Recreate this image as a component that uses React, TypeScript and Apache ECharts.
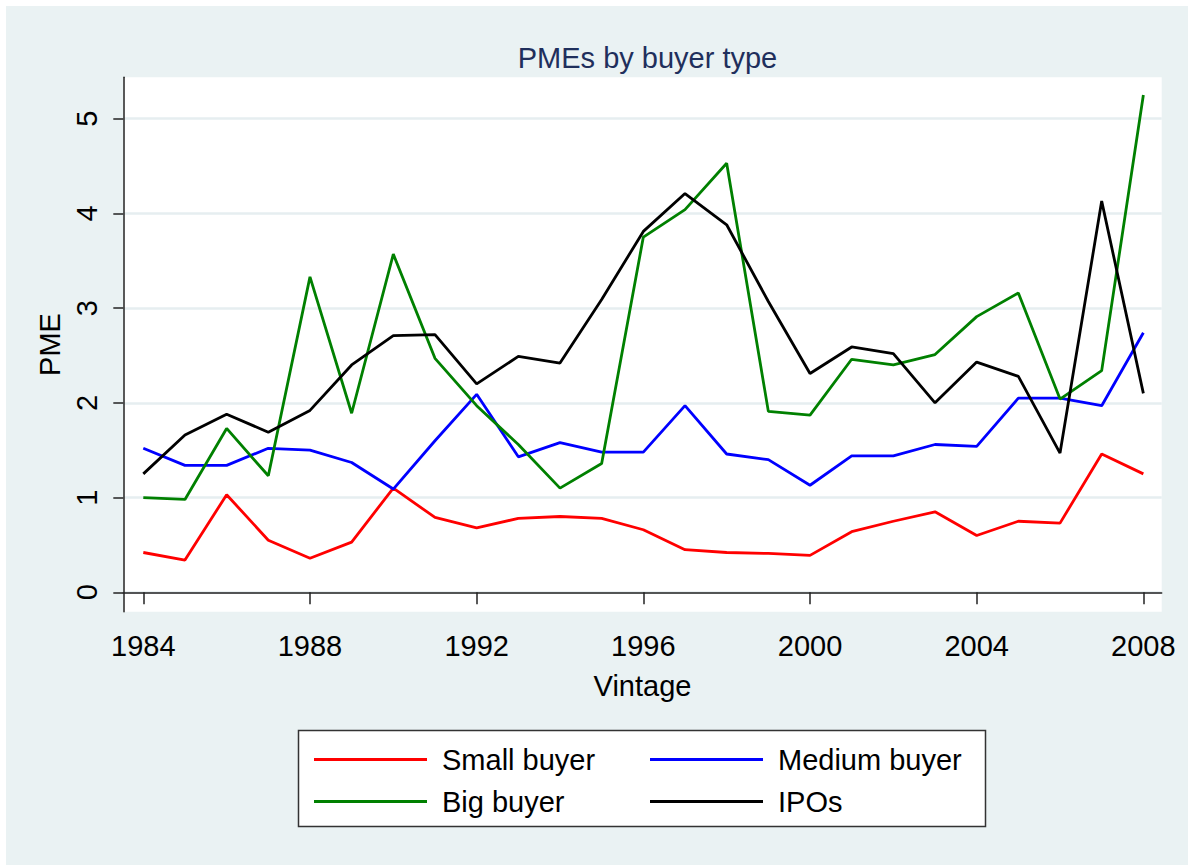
import React, { useEffect, useRef } from "react";
import * as echarts from "echarts";

const years = [1984, 1985, 1986, 1987, 1988, 1989, 1990, 1991, 1992, 1993, 1994, 1995, 1996, 1997, 1998, 1999, 2000, 2001, 2002, 2003, 2004, 2005, 2006, 2007, 2008];
const smallBuyer = [0.42, 0.34, 1.03, 0.55, 0.36, 0.53, 1.10, 0.79, 0.68, 0.78, 0.80, 0.78, 0.66, 0.45, 0.42, 0.41, 0.39, 0.64, 0.75, 0.85, 0.60, 0.75, 0.73, 1.46, 1.25];
const mediumBuyer = [1.52, 1.34, 1.34, 1.52, 1.50, 1.37, 1.09, 1.60, 2.09, 1.43, 1.58, 1.48, 1.48, 1.97, 1.46, 1.40, 1.13, 1.44, 1.44, 1.56, 1.54, 2.05, 2.05, 1.97, 2.74];
const bigBuyer = [1.00, 0.98, 1.73, 1.23, 3.33, 1.89, 3.57, 2.47, 1.97, 1.56, 1.10, 1.36, 3.75, 4.04, 4.53, 1.91, 1.87, 2.46, 2.40, 2.51, 2.91, 3.16, 2.04, 2.34, 5.25];
const ipos = [1.25, 1.66, 1.88, 1.69, 1.92, 2.40, 2.71, 2.72, 2.20, 2.49, 2.42, 3.09, 3.81, 4.21, 3.88, 3.07, 2.31, 2.59, 2.52, 2.00, 2.43, 2.28, 1.47, 4.13, 2.10];
const xTicks = [1984, 1988, 1992, 1996, 2000, 2004, 2008];
const yTicks = [0, 1, 2, 3, 4, 5];

const FONT = "'Liberation Sans', Arial, sans-serif";

export default function App() {
  const ref = useRef<HTMLDivElement>(null);
  useEffect(() => {
    if (!ref.current) return;
    const chart = echarts.init(ref.current, null, { renderer: "svg" });
    const mk = (name: string, data: number[], color: string) => ({
      name,
      type: "line",
      data: years.map((y, i) => [y, data[i]]),
      symbol: "none",
      showSymbol: false,
      clip: false,
      lineStyle: { color, width: 2.8 },
      itemStyle: { color },
    });
    const legendCommon = {
      orient: "vertical",
      top: 740,
      icon: "rect",
      itemWidth: 113,
      itemHeight: 3,
      itemGap: 13,
      textStyle: { fontFamily: FONT, fontSize: 29, color: "#000", padding: [0, 0, 0, 10] },
    };
    chart.setOption({
      animation: false,
      backgroundColor: "#ffffff",
      textStyle: { fontFamily: FONT },
      graphic: [
        { type: "rect", z: -10, silent: true, shape: { x: 6, y: 6, width: 1182, height: 859 }, style: { fill: "#eaf2f3" } },
        { type: "rect", z: -5, silent: true, shape: { x: 298.5, y: 730.5, width: 687, height: 96 }, style: { fill: "#ffffff", stroke: "#333333", lineWidth: 1.5 } },
      ],
      title: {
        text: "PMEs by buyer type",
        left: 642.5,
        textAlign: "center",
        top: 38,
        textStyle: { fontFamily: FONT, fontSize: 29, fontWeight: "normal", color: "#1f2f5c" },
      },
      legend: [
        { ...legendCommon, data: ["Small buyer", "Big buyer"], left: 309 },
        { ...legendCommon, data: ["Medium buyer", "IPOs"], left: 645 },
      ],
      grid: { left: 123.3, right: 26.3, top: 77.3, bottom: 253.3, show: true, backgroundColor: "#ffffff", borderWidth: 0 },
      xAxis: {
        type: "value",
        min: 1983.52,
        max: 2008.44,
        name: "Vintage",
        nameLocation: "middle",
        nameGap: 60,
        nameTextStyle: { fontFamily: FONT, fontSize: 29, color: "#000" },
        axisLine: { show: true, lineStyle: { color: "#222", width: 1.5 } },
        axisTick: { show: true, customValues: xTicks, length: 12, lineStyle: { color: "#222", width: 1.5 } },
        axisLabel: { customValues: xTicks, margin: 20, fontFamily: FONT, fontSize: 29, color: "#000", formatter: (v: number) => String(v) },
        splitLine: { show: false },
      },
      yAxis: {
        type: "value",
        min: -0.205,
        max: 5.437,
        name: "PME",
        nameLocation: "middle",
        nameGap: 53,
        nameRotate: 90,
        nameTextStyle: { fontFamily: FONT, fontSize: 29, color: "#000" },
        axisLine: { show: true, lineStyle: { color: "#222", width: 1.5 } },
        axisTick: { show: true, customValues: yTicks, length: 10, lineStyle: { color: "#222", width: 1.5 } },
        axisLabel: { customValues: yTicks, rotate: 90, margin: 22, fontFamily: FONT, fontSize: 29, color: "#000", formatter: (v: number) => String(v) },
        splitLine: { show: true, lineStyle: { color: "#e6eef0", width: 2.5 } },
      },
      series: [
        mk("Small buyer", smallBuyer, "#ff0000"),
        mk("Medium buyer", mediumBuyer, "#0000ff"),
        mk("Big buyer", bigBuyer, "#008000"),
        mk("IPOs", ipos, "#000000"),
      ],
    });
    return () => chart.dispose();
  }, []);
  return <div ref={ref} style={{ position: "fixed", left: 0, top: 0, width: 1188, height: 865 }} />;
}
